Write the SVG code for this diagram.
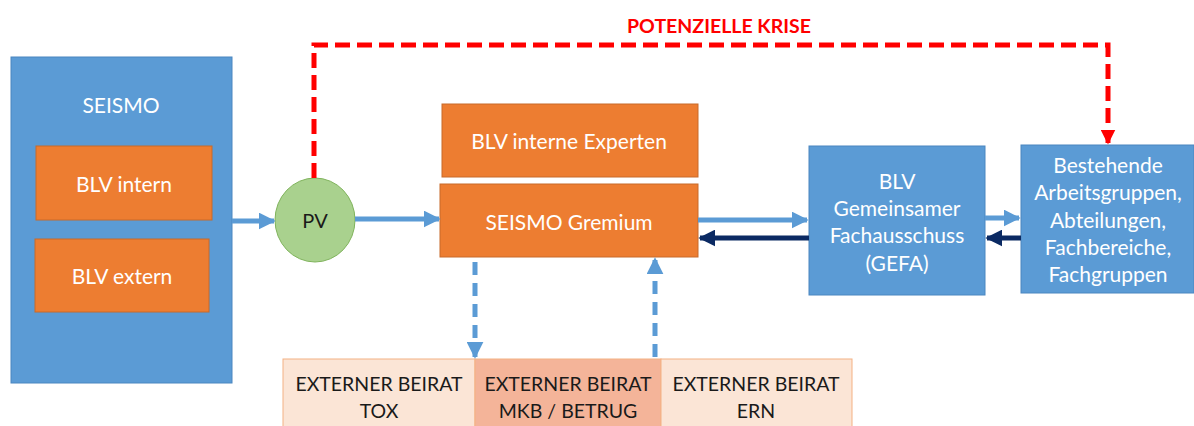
<svg xmlns="http://www.w3.org/2000/svg" width="1194" height="426" viewBox="0 0 1194 426">
<defs>
<style>
.t{font-family:Lato,"Open Sans",sans-serif;font-size:21px;text-anchor:middle;dominant-baseline:central}
.w{fill:#ffffff}
.d{fill:#1a1a1a;font-size:19.5px}
.blue{fill:#5b9bd5;stroke:#4a86c0;stroke-width:1}
.org{fill:#ed7d31;stroke:#c86a2a;stroke-width:1}
.lb{stroke:#5b9bd5;stroke-width:5;fill:none}
.db{stroke:#0b2a63;stroke-width:5;fill:none}
</style>
<marker id="al" viewBox="0 0 10 10" refX="9" refY="5" markerWidth="3.4" markerHeight="3.4" orient="auto" markerUnits="strokeWidth"><path d="M0,0L10,5L0,10z" fill="#5b9bd5"/></marker>
<marker id="ad" viewBox="0 0 10 10" refX="9" refY="5" markerWidth="3.4" markerHeight="3.4" orient="auto" markerUnits="strokeWidth"><path d="M0,0L10,5L0,10z" fill="#0b2a63"/></marker>
<marker id="ar" viewBox="0 0 10 10" refX="9" refY="5" markerWidth="3" markerHeight="3" orient="auto" markerUnits="strokeWidth"><path d="M0,0L10,5L0,10z" fill="#ff0000"/></marker>
</defs>
<rect width="1194" height="426" fill="#ffffff"/>

<g id="seismo">
<rect class="blue" x="11" y="57" width="221" height="326"/>
<text class="t w" x="121" y="104">SEISMO</text>
</g>
<g id="blv-intern">
<rect class="org" x="36" y="146" width="176" height="74"/>
<text class="t w" x="124" y="183">BLV intern</text>
</g>
<g id="blv-extern">
<rect class="org" x="35" y="239" width="174" height="73"/>
<text class="t w" x="122" y="275">BLV extern</text>
</g>
<g id="pv">
<ellipse cx="315" cy="220" rx="40" ry="42" fill="#a9d18e" stroke="#7fb35b" stroke-width="1"/>
<text class="t d" x="315" y="220" style="font-size:20px">PV</text>
</g>
<g id="interne-experten">
<rect class="org" x="442" y="104" width="256" height="73"/>
<text class="t w" x="569" y="140">BLV interne Experten</text>
</g>
<g id="gremium">
<rect class="org" x="440" y="184" width="258" height="73"/>
<text class="t w" x="569" y="221">SEISMO Gremium</text>
</g>
<g id="gefa">
<rect class="blue" x="809" y="146" width="176" height="149"/>
<text class="t w" x="897" y="180">BLV</text>
<text class="t w" x="897" y="207">Gemeinsamer</text>
<text class="t w" x="897" y="234">Fachausschuss</text>
<text class="t w" x="897" y="262">(GEFA)</text>
</g>
<g id="bestehende">
<rect class="blue" x="1021" y="145" width="173" height="148"/>
<text class="t w" x="1108" y="164">Bestehende</text>
<text class="t w" x="1108" y="191">Arbeitsgruppen,</text>
<text class="t w" x="1108" y="219">Abteilungen,</text>
<text class="t w" x="1108" y="246">Fachbereiche,</text>
<text class="t w" x="1108" y="273">Fachgruppen</text>
</g>
<g id="beirat-tox">
<rect x="283" y="359" width="192" height="70" fill="#fbe5d6" stroke="#f4b183" stroke-width="1"/>
<text class="t d" x="379" y="383">EXTERNER BEIRAT</text>
<text class="t d" x="379" y="410">TOX</text>
</g>
<g id="beirat-mkb">
<rect x="475" y="359" width="186" height="70" fill="#f4b499" stroke="#f4b183" stroke-width="1"/>
<text class="t d" x="568" y="383">EXTERNER BEIRAT</text>
<text class="t d" x="568" y="410">MKB / BETRUG</text>
</g>
<g id="beirat-ern">
<rect x="661" y="359" width="191" height="70" fill="#fbe5d6" stroke="#f4b183" stroke-width="1"/>
<text class="t d" x="756" y="383">EXTERNER BEIRAT</text>
<text class="t d" x="756" y="410">ERN</text>
</g>

<g id="connectors">
<line class="lb" x1="232" y1="221" x2="274" y2="221" marker-end="url(#al)"/>
<line class="lb" x1="355" y1="219" x2="439" y2="219" marker-end="url(#al)"/>
<line class="lb" x1="698" y1="220" x2="807" y2="220" marker-end="url(#al)"/>
<line class="db" x1="809" y1="238" x2="700" y2="238" marker-end="url(#ad)"/>
<line class="lb" x1="985" y1="218" x2="1019" y2="218" marker-end="url(#al)"/>
<line class="db" x1="1021" y1="238" x2="987" y2="238" marker-end="url(#ad)"/>
<line class="lb" x1="475" y1="262" x2="475" y2="357" stroke-dasharray="13 8" marker-end="url(#al)"/>
<line class="lb" x1="655" y1="357" x2="655" y2="259" stroke-dasharray="13 8" marker-end="url(#al)"/>
<path d="M314,178 V45 H1108 V143" fill="none" stroke="#ff0000" stroke-width="5" stroke-dasharray="15 7" marker-end="url(#ar)"/>
<text x="719" y="25" font-family="Lato,'Open Sans',sans-serif" font-size="19.5" font-weight="bold" fill="#ff0000" text-anchor="middle" dominant-baseline="central">POTENZIELLE KRISE</text>
</g>
</svg>
